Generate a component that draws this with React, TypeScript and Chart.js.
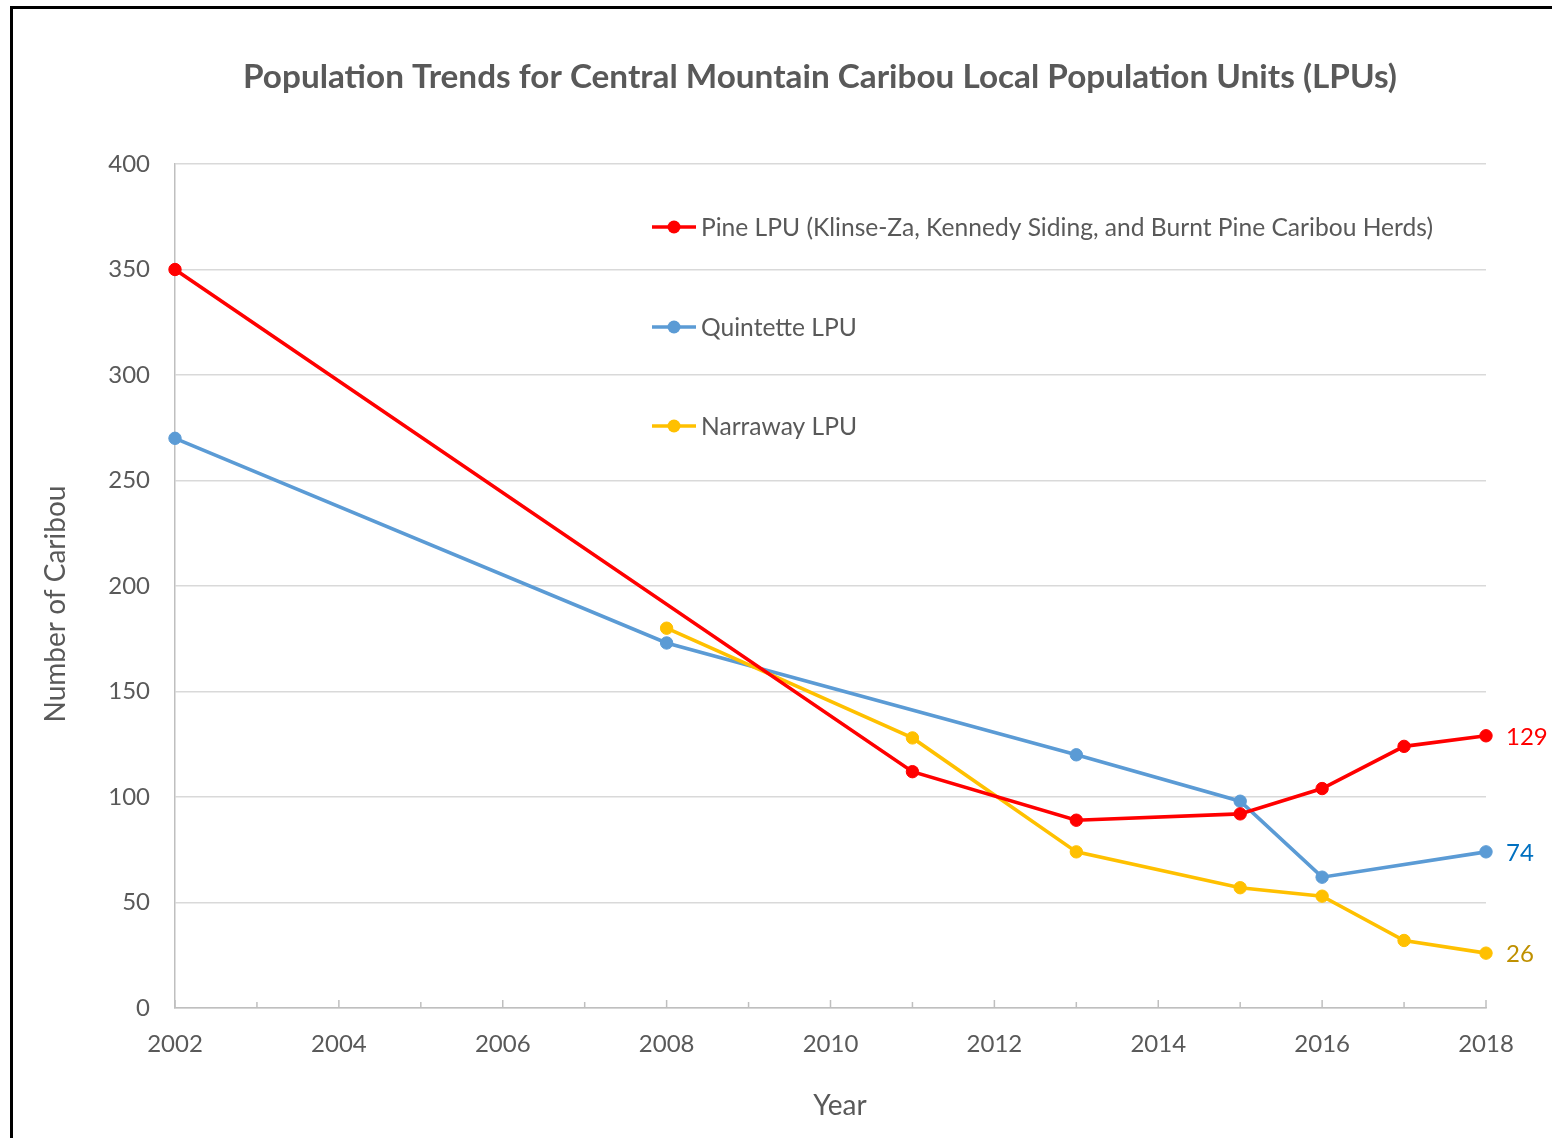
import { useEffect, useRef } from "react";
import { Chart, registerables } from "chart.js";

Chart.register(...registerables);

const chartTitle = "Population Trends for Central Mountain Caribou Local Population Units (LPUs)";
const xAxisTitle = "Year";
const yAxisTitle = "Number of Caribou";

const pineLabel = "Pine LPU (Klinse-Za, Kennedy Siding, and Burnt Pine Caribou Herds)";
const pineYears = [2002, 2011, 2013, 2015, 2016, 2017, 2018];
const pineValues = [350, 112, 89, 92, 104, 124, 129];

const quintetteLabel = "Quintette LPU";
const quintetteYears = [2002, 2008, 2013, 2015, 2016, 2018];
const quintetteValues = [270, 173, 120, 98, 62, 74];

const narrawayLabel = "Narraway LPU";
const narrawayYears = [2008, 2011, 2013, 2015, 2016, 2017, 2018];
const narrawayValues = [180, 128, 74, 57, 53, 32, 26];

const xMin = 2002;
const xMax = 2018;
const xStep = 2;
const yMin = 0;
const yMax = 400;
const yStep = 50;

const FONT = "Lato, 'Open Sans', sans-serif";
const TEXT = "#595959";

const seriesColors = ["#FF0000", "#5B9BD5", "#FFC000"];
const labelColors = ["#FF0000", "#0070C0", "#BF9000"];

const toPoints = (xs: number[], ys: number[]) => xs.map((x, i) => ({ x, y: ys[i] }));

const decorPlugin = {
  id: "decor",
  afterDatasetsDraw(chart: any) {
    const { ctx, chartArea, scales } = chart;
    const xs = scales.x;
    ctx.save();

    // minor / major inside ticks on x axis
    ctx.strokeStyle = "#BFBFBF";
    ctx.lineWidth = 1.5;
    for (let yr = xMin; yr <= xMax; yr++) {
      const px = xs.getPixelForValue(yr);
      const len = (yr - xMin) % xStep === 0 ? 8 : 6;
      ctx.beginPath();
      ctx.moveTo(px, chartArea.bottom);
      ctx.lineTo(px, chartArea.bottom - len);
      ctx.stroke();
    }

    // title
    ctx.fillStyle = TEXT;
    ctx.textAlign = "center";
    ctx.textBaseline = "middle";
    ctx.font = `bold 33.3px ${FONT}`;
    ctx.fillText(chartTitle, 820, 77);

    // axis titles
    ctx.font = `28px ${FONT}`;
    ctx.fillText(xAxisTitle, 840, 1106);
    ctx.save();
    ctx.translate(56, 604);
    ctx.rotate(-Math.PI / 2);
    ctx.fillText(yAxisTitle, 0, 0);
    ctx.restore();

    // legend
    const legend = [pineLabel, quintetteLabel, narrawayLabel];
    const rows = [227, 327, 426];
    ctx.font = `24.6px ${FONT}`;
    ctx.textAlign = "left";
    legend.forEach((lab, i) => {
      const y = rows[i];
      ctx.strokeStyle = seriesColors[i];
      ctx.fillStyle = seriesColors[i];
      ctx.lineWidth = 3.5;
      ctx.beginPath();
      ctx.moveTo(652, y);
      ctx.lineTo(696, y);
      ctx.stroke();
      ctx.beginPath();
      ctx.arc(674, y, 6.5, 0, Math.PI * 2);
      ctx.fill();
      ctx.fillStyle = TEXT;
      ctx.fillText(lab, 701, y + 1);
    });

    // end-point data labels
    ctx.font = `24px ${FONT}`;
    chart.data.datasets.forEach((ds: any, i: number) => {
      const meta = chart.getDatasetMeta(i);
      const last = meta.data[meta.data.length - 1];
      const val = ds.data[ds.data.length - 1].y;
      ctx.fillStyle = labelColors[ds.colorIndex];
      ctx.fillText(String(val), last.x + 20, last.y + 1);
    });

    ctx.restore();
  },
};

export default function App() {
  const ref = useRef<HTMLCanvasElement>(null);

  useEffect(() => {
    if (!ref.current) return;
    const mk = (label: string, xs: number[], ys: number[], ci: number, order: number) => ({
      label,
      data: toPoints(xs, ys),
      borderColor: seriesColors[ci],
      backgroundColor: seriesColors[ci],
      pointBackgroundColor: seriesColors[ci],
      pointBorderColor: seriesColors[ci],
      pointRadius: 6.2,
      pointBorderWidth: 1,
      borderWidth: 3.6,
      tension: 0,
      clip: false,
      order,
      colorIndex: ci,
    });
    const chart = new Chart(ref.current, {
      type: "line",
      data: {
        datasets: [
          mk(pineLabel, pineYears, pineValues, 0, 0),
          mk(quintetteLabel, quintetteYears, quintetteValues, 1, 2),
          mk(narrawayLabel, narrawayYears, narrawayValues, 2, 1),
        ] as any,
      },
      options: {
        animation: false,
        responsive: false,
        events: [],
        layout: { padding: { left: 0, top: 164, right: 66, bottom: 0 } },
        plugins: {
          legend: { display: false },
          title: { display: false },
          tooltip: { enabled: false },
        },
        scales: {
          x: {
            type: "linear",
            min: xMin,
            max: xMax,
            offset: false,
            afterFit: (s: any) => {
              s.height = 130;
            },
            ticks: {
              stepSize: xStep,
              padding: 22,
              color: TEXT,
              font: { family: FONT, size: 24 },
              callback: (v: any) => String(v),
              maxRotation: 0,
              autoSkip: false,
            },
            grid: { drawOnChartArea: false, drawTicks: false },
            border: { color: "#BFBFBF", width: 1.5 },
          },
          y: {
            min: yMin,
            max: yMax,
            afterFit: (s: any) => {
              s.width = 175;
            },
            ticks: {
              stepSize: yStep,
              padding: 25,
              color: TEXT,
              font: { family: FONT, size: 24 },
            },
            grid: { color: "#D9D9D9", lineWidth: 1.5, drawTicks: false },
            border: { color: "#BFBFBF", width: 1.5 },
          },
        },
      },
      plugins: [decorPlugin],
    });
    return () => chart.destroy();
  }, []);

  return (
    <div
      style={{
        position: "absolute",
        left: 0,
        top: 0,
        width: 1552,
        height: 1138,
        overflow: "hidden",
        background: "#fff",
      }}
    >
      <div
        style={{
          position: "absolute",
          left: 10,
          top: 6,
          width: 1700,
          height: 1300,
          borderLeft: "3px solid #000",
          borderTop: "3px solid #000",
          boxSizing: "border-box",
        }}
      />
      <canvas
        ref={ref}
        width={1552}
        height={1138}
        style={{ position: "absolute", left: 0, top: 0, width: 1552, height: 1138 }}
      />
    </div>
  );
}
